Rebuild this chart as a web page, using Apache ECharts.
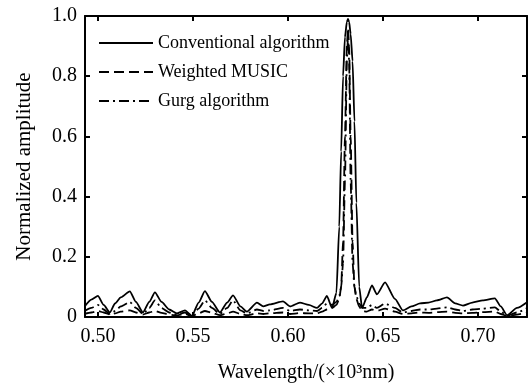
<!DOCTYPE html>
<html>
<head>
<meta charset="utf-8">
<script src="https://cdn.jsdelivr.net/npm/echarts@6/dist/echarts.min.js"></script>
<style>
  html, body { margin: 0; padding: 0; background: #fff; }
  #chart { width: 528px; height: 383px; }
</style>
</head>
<body>
<div id="chart"></div>
<script>
// wavelength grid (x10^3 nm), denser around the main peak
const wavelength = [0.493, 0.4965, 0.500, 0.503, 0.5063, 0.509, 0.512, 0.5168, 0.520, 0.5237,
  0.527, 0.530, 0.5335, 0.5375, 0.5416, 0.5458, 0.5495, 0.553, 0.5563, 0.560,
  0.5642, 0.568, 0.5711, 0.575, 0.5784, 0.5837, 0.587, 0.5905, 0.5974, 0.6011,
  0.6063, 0.611, 0.6153, 0.618, 0.6205, 0.6232, 0.6255, 0.627, 0.628, 0.629,
  0.630, 0.631, 0.6316, 0.6322, 0.633, 0.634, 0.635, 0.636, 0.6375, 0.639,
  0.6415, 0.6442, 0.6468, 0.6511, 0.6563, 0.6605, 0.665, 0.6695, 0.674, 0.6784,
  0.6837, 0.688, 0.6921, 0.697, 0.7026, 0.7089, 0.712, 0.7153, 0.7205, 0.726];

const conventional = [0.035, 0.058, 0.07, 0.04, 0.015, 0.045, 0.065, 0.085, 0.05, 0.015,
  0.05, 0.082, 0.05, 0.025, 0.012, 0.022, 0.004, 0.048, 0.086, 0.05,
  0.015, 0.048, 0.072, 0.035, 0.018, 0.048, 0.035, 0.042, 0.052, 0.035,
  0.048, 0.04, 0.03, 0.045, 0.07, 0.03, 0.08, 0.3, 0.55, 0.8,
  0.93, 0.98, 0.99, 0.98, 0.94, 0.85, 0.65, 0.38, 0.1, 0.03,
  0.065, 0.105, 0.075, 0.115, 0.06, 0.022, 0.035, 0.045, 0.048, 0.055,
  0.065, 0.045, 0.038, 0.048, 0.055, 0.062, 0.035, 0.006, 0.03, 0.05];

const weightedMusic = [0.01, 0.015, 0.02, 0.015, 0.008, 0.012, 0.018, 0.022, 0.015, 0.008,
  0.015, 0.02, 0.014, 0.008, 0.005, 0.01, 0.003, 0.012, 0.02, 0.014,
  0.006, 0.012, 0.018, 0.01, 0.006, 0.012, 0.01, 0.012, 0.015, 0.01,
  0.013, 0.012, 0.012, 0.018, 0.025, 0.03, 0.04, 0.06, 0.1, 0.25,
  0.6, 0.9, 0.96, 0.9, 0.6, 0.25, 0.1, 0.06, 0.035, 0.02,
  0.018, 0.025, 0.02, 0.028, 0.018, 0.01, 0.012, 0.015, 0.014, 0.016,
  0.018, 0.014, 0.012, 0.014, 0.016, 0.018, 0.01, 0.003, 0.008, 0.015];

const gurg = [0.02, 0.03, 0.04, 0.025, 0.01, 0.02, 0.035, 0.05, 0.03, 0.01,
  0.03, 0.055, 0.03, 0.015, 0.008, 0.015, 0.004, 0.028, 0.055, 0.03,
  0.01, 0.03, 0.055, 0.022, 0.012, 0.025, 0.02, 0.022, 0.03, 0.02,
  0.025, 0.022, 0.02, 0.03, 0.045, 0.04, 0.05, 0.07, 0.1, 0.18,
  0.45, 0.85, 0.93, 0.85, 0.45, 0.18, 0.1, 0.07, 0.045, 0.03,
  0.03, 0.04, 0.03, 0.045, 0.03, 0.015, 0.02, 0.025, 0.025, 0.028,
  0.032, 0.025, 0.02, 0.025, 0.028, 0.032, 0.018, 0.004, 0.015, 0.03];

const xTicks = [0.50, 0.55, 0.60, 0.65, 0.70];
const seriesNames = ['Conventional algorithm', 'Weighted MUSIC', 'Gurg algorithm'];

const font = "'Liberation Serif', 'Times New Roman', serif";
const chart = echarts.init(document.getElementById('chart'));

const pairs = (ys) => wavelength.map((x, i) => [x, ys[i]]);

const xCommon = {
  type: 'value',
  min: 0.4932,
  max: 0.7258,
  splitLine: { show: false },
  axisLine: { show: true, onZero: false, lineStyle: { color: '#000', width: 2 } },
  axisTick: { show: true, inside: true, length: 5, customValues: xTicks, lineStyle: { color: '#000', width: 2 } }
};
const yCommon = {
  type: 'value',
  min: 0,
  max: 1,
  interval: 0.2,
  splitLine: { show: false },
  axisLine: { show: true, lineStyle: { color: '#000', width: 2 } },
  axisTick: { show: true, inside: true, length: 5, lineStyle: { color: '#000', width: 2 } }
};

const lineSeries = (name, data, type) => ({
  name: name,
  type: 'line',
  data: data,
  symbol: 'none',
  smooth: 0.2,
  smoothMonotone: 'x',
  lineStyle: { color: '#000', width: 1.8, type: type },
  itemStyle: { color: '#000' }
});

const option = {
  backgroundColor: '#fff',
  animation: false,
  textStyle: { fontFamily: font },
  grid: { left: 85, right: 1, top: 16, bottom: 66, outerBoundsMode: 'none' },
  legend: {
    orient: 'vertical',
    left: 93,
    top: 29,
    itemWidth: 54,
    itemHeight: 14,
    itemGap: 11,
    // hide the marker circle, keep only the line sample
    itemStyle: { color: 'rgba(0,0,0,0)', borderWidth: 0, opacity: 0 },
    textStyle: { fontFamily: font, fontSize: 18, color: '#000' },
    data: seriesNames
  },
  xAxis: [
    Object.assign({}, xCommon, {
      position: 'bottom',
      name: 'Wavelength/(×10³nm)',
      nameLocation: 'middle',
      nameGap: 46,
      nameTextStyle: { fontFamily: font, fontSize: 20, color: '#000' },
      axisLabel: {
        show: true, customValues: xTicks, margin: 10,
        fontFamily: font, fontSize: 20, color: '#000',
        formatter: (v) => v.toFixed(2)
      }
    }),
    Object.assign({}, xCommon, { position: 'top', axisLabel: { show: false } })
  ],
  yAxis: [
    Object.assign({}, yCommon, {
      position: 'left',
      name: 'Normalized amplitude',
      nameLocation: 'middle',
      nameGap: 50,
      nameTextStyle: { fontFamily: font, fontSize: 21, color: '#000' },
      axisLabel: {
        show: true, margin: 8,
        fontFamily: font, fontSize: 20, color: '#000',
        formatter: (v) => (v === 0 ? '0' : v.toFixed(1))
      }
    }),
    Object.assign({}, yCommon, { position: 'right', axisLabel: { show: false } })
  ],
  series: [
    lineSeries(seriesNames[0], pairs(conventional), 'solid'),
    lineSeries(seriesNames[1], pairs(weightedMusic), [10, 5]),
    lineSeries(seriesNames[2], pairs(gurg), [10, 4, 2, 4])
  ]
};

chart.setOption(option);
</script>
</body>
</html>
